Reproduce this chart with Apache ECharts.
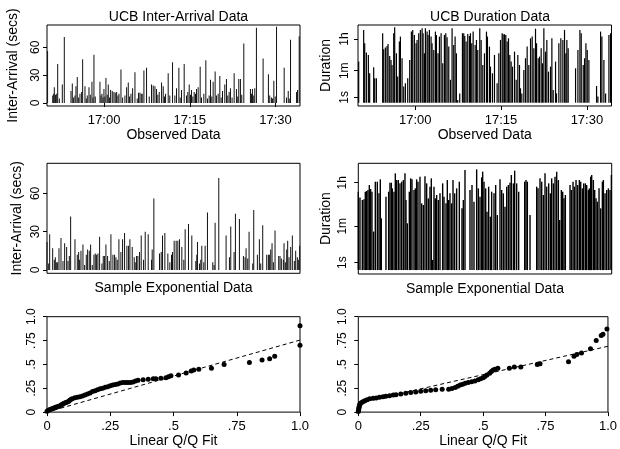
<!DOCTYPE html>
<html><head><meta charset="utf-8">
<script src="https://cdn.jsdelivr.net/npm/echarts@6/dist/echarts.min.js"></script>
<style>html,body{margin:0;padding:0;background:#fff}#c{width:620px;height:449px}</style>
</head><body><div id="c"></div><script>
// ---------- DATA ----------
// UCB inter-arrival: arrival time (minutes after 16:50) and gap (secs)
const ucbArrTime = [0.1,1.0,1.17,1.28,1.5,1.7,1.87,2.16,2.68,3.03,4.2,4.43,4.66,4.9,5.07,5.3,5.54,5.77,6.06,6.24,6.65,6.88,7.05,7.35,7.58,7.87,8.05,8.22,8.45,9.27,9.45,9.62,9.8,9.97,10.14,10.32,10.55,10.73,10.96,11.14,11.43,11.72,11.95,12.19,12.42,12.6,12.95,13.24,13.64,13.94,14.23,14.46,14.7,14.99,15.4,15.8,16.03,16.27,16.5,16.67,16.97,17.43,17.9,18.3,18.6,18.9,19.18,19.41,19.65,20.06,20.35,20.58,20.76,21.22,21.5,21.98,22.39,22.68,23.09,23.32,23.55,24.02,24.43,24.66,24.9,25.13,25.3,25.54,25.77,26.0,26.18,26.47,26.82,27.05,27.46,27.81,28.1,28.39,28.63,28.86,29.09,29.44,29.67,29.97,30.26,30.5,30.73,31.13,31.42,31.66,31.89,32.12,32.41,32.77,33.17,33.4,33.58,33.87,34.1,34.46,35.62,35.8,35.97,36.2,36.38,36.67,37.84,38.77,39.0,39.3,39.5,39.72,39.96,40.19,41.53,41.94,42.24,42.41,42.64,43.7,43.87,44.16];
const ucbArrGap = [56,8,10,17,9,10,42,5,20,71,13,21,6,8,18,28,6,10,12,47,18,5,8,17,9,23,6,52,7,23,8,10,6,15,7,27,9,20,6,14,13,12,11,12,8,10,36,6,8,17,22,7,10,16,33,5,11,11,10,10,35,38,7,20,19,18,15,9,12,22,18,7,10,32,8,44,8,16,38,6,14,42,8,12,20,9,14,7,12,10,15,17,39,6,10,46,5,8,25,7,23,34,8,10,29,6,13,20,26,8,12,16,6,32,15,7,26,26,9,64,15,10,15,8,16,81,48,31,8,6,5,24,7,82,38,6,13,5,68,12,14,72];

// UCB durations: start time (minutes after 16:50) and duration (secs)
const ucbDurTime = [0.12,0.99,1.17,1.46,1.81,2.04,2.74,2.92,3.21,4.31,4.49,4.78,5.07,5.25,5.54,5.77,5.95,6.24,6.41,6.71,6.94,7.23,7.41,7.7,7.99,8.28,8.69,9.04,9.33,9.56,9.85,10.15,10.32,10.61,10.9,11.2,11.37,11.6,11.78,12.07,12.24,12.48,12.77,12.94,13.24,13.53,13.7,13.99,14.23,14.52,14.81,15.1,15.34,15.57,15.86,16.15,16.44,16.73,16.97,17.2,17.43,17.78,18.25,18.48,18.66,18.89,19.18,19.48,19.65,19.88,20.12,20.47,20.7,20.93,21.28,21.52,21.81,22.1,22.45,22.62,22.97,23.15,23.5,23.85,24.31,24.61,24.9,25.19,25.36,25.6,25.83,26.06,26.3,26.53,26.76,27.0,27.35,27.64,27.93,28.22,28.4,28.63,28.98,29.27,29.56,29.85,30.15,30.44,30.73,31.02,31.2,31.49,31.72,32.01,32.24,32.48,32.77,33.0,33.29,33.64,33.88,34.11,34.52,34.69,35.1,35.45,35.8,36.09,36.33,36.5,36.73,38.02,38.43,38.78,39.01,39.36,39.59,39.83,40.06,40.35,41.69,41.92,42.39,42.62,42.97,43.27,43.85,44.14,44.25];
const ucbDurSecs = [196,11560,2080,625,463,43,94,22,22,7520,960,1190,1475,1910,407,243,127,7520,16300,573,28,2580,4900,301,6.9,11,22,243,9330,11560,6070,2080,3190,7520,11560,14300,7520,573,14300,9330,6070,11560,4900,2080,880,9330,6070,573,4900,7520,157,6070,7520,4450,1355,18,14300,1680,4900,573,0.4,2.3,7520,7520,5340,2580,6900,5340,7520,2080,9330,1680,3190,880,14300,3190,127,573,9330,4900,1355,102,43,463,11,573,3190,7520,6700,6700,6070,2580,3950,463,196,102,710,18,463,127,5.4,2.3,66,301,1355,127,3950,4900,1090,13500,2080,301,373,1090,157,14300,710,3190,53,102,3950,4.1,196,2.3,2080,3950,3190,11560,573,3190,1090,82,880,11560,7520,127,301,2080,880,243,7.6,1.2,9330,4900,243,2.3,6070,7520,196];

// Sample exponential inter-arrivals: position along sample (0..760) and gap (secs)
const expArrPos = [0,5,8,17,22,25,28,32,36,42,48,53,59,63,67,71,84,91,95,98,102,108,113,118,122,127,131,136,141,145,149,153,158,165,169,173,177,182,187,192,198,203,207,211,216,222,227,233,240,245,249,256,262,265,269,273,278,283,290,295,304,314,316,321,338,343,347,354,363,369,374,377,382,388,393,398,405,411,415,425,435,447,450,452,458,462,465,471,475,482,498,502,505,516,538,548,552,562,566,578,590,595,598,603,607,618,621,632,638,642,648,660,665,668,672,676,680,685,696,700,704,710,712,716,720,723,727,732,737,743,747,752,755,759];
const expArrGap = [22,5,28,17,8,10,6,6,17,25,7,21,18,7,11,42,24,12,14,8,15,20,4,12,16,15,20,4,12,13,12,13,26,5,11,11,20,11,7,28,12,12,10,8,24,14,24,29,19,19,24,18,10,6,11,11,14,27,8,30,28,8,16,56,13,14,27,29,13,6,12,14,23,23,23,24,18,8,32,36,27,7,12,22,5,8,19,6,19,45,6,4,37,72,27,10,34,14,44,40,11,10,17,9,30,5,47,12,24,5,35,12,12,12,16,21,6,31,11,11,9,8,21,6,16,23,10,18,27,7,15,10,8,19];

// Sample durations: position (0..760) and duration (secs)
const expDurPos = [0,5,12,17,21,25,29,33,37,41,46,51,57,62,66,69,83,91,95,99,102,107,111,115,120,125,130,135,140,143,147,153,157,161,167,171,175,179,185,190,195,200,205,210,215,219,223,227,231,235,240,245,253,257,263,267,271,275,280,284,289,295,303,311,315,320,335,341,347,355,360,365,370,373,377,382,386,391,396,400,407,412,417,425,430,435,440,445,450,455,459,465,469,475,481,499,503,507,515,535,539,545,550,555,560,565,571,576,580,585,590,595,600,604,609,613,617,621,635,639,644,648,653,658,663,667,672,676,681,685,690,693,697,700,705,709,713,717,722,727,732,735,740,745,750,755,759];
const expDurSecs = [1550,910,710,756,1550,1650,1815,2900,1995,1550,36,3960,3960,1330,4930,127,970,1550,3600,3600,2120,1550,8650,4630,4630,3390,3960,4630,8650,710,79,1550,5420,4930,1815,2120,4930,3960,6330,519,444,6600,3390,830,2480,5420,1.6,2480,830,1135,710,1330,3390,970,519,4630,710,1330,519,4630,1330,2120,3960,325,710,11800,1815,2900,607,12600,2120,970,5950,10200,3960,2120,237,2480,148,1550,1330,2900,173,4930,1815,1330,380,2480,2900,3600,7400,3390,11100,3390,1550,3960,4630,3960,173,2480,2120,5420,3960,1135,8650,2480,3390,1330,5420,3390,6330,10100,4630,108,1815,1550,830,1135,2900,1815,3960,2480,4630,2900,4630,3960,2120,3390,3390,2900,1815,2120,6330,7400,4630,1815,830,607,2120,325,3960,4630,1330,1815,2120,1815,7400];

// Q/Q plots
const qqLeftX = [0,0.005,0.01,0.015,0.02,0.025,0.03,0.035,0.04,0.045,0.05,0.055,0.06,0.065,0.07,0.075,0.08,0.085,0.09,0.095,0.10,0.11,0.12,0.13,0.14,0.15,0.16,0.17,0.18,0.19,0.20,0.21,0.22,0.23,0.24,0.25,0.26,0.27,0.28,0.29,0.30,0.31,0.32,0.33,0.34,0.35,0.36,0.38,0.40,0.42,0.43,0.45,0.47,0.48,0.49,0.52,0.55,0.57,0.58,0.60,0.65,0.70,0.80,0.85,0.88,0.90,1.00,1.00];
const qqLeftY = [0.01,0.02,0.025,0.03,0.035,0.04,0.045,0.05,0.055,0.06,0.065,0.075,0.08,0.09,0.095,0.10,0.105,0.11,0.125,0.135,0.14,0.15,0.155,0.16,0.17,0.18,0.19,0.20,0.215,0.225,0.235,0.245,0.25,0.26,0.265,0.275,0.285,0.29,0.295,0.305,0.31,0.31,0.31,0.31,0.315,0.325,0.335,0.34,0.345,0.35,0.35,0.355,0.36,0.37,0.38,0.39,0.41,0.43,0.44,0.45,0.46,0.50,0.52,0.545,0.56,0.585,0.70,0.905];
const qqRightX = [0,0.001,0.002,0.003,0.004,0.006,0.008,0.013,0.02,0.026,0.035,0.046,0.06,0.072,0.085,0.099,0.11,0.125,0.14,0.151,0.17,0.19,0.21,0.23,0.25,0.27,0.29,0.31,0.336,0.362,0.375,0.388,0.398,0.408,0.418,0.428,0.44,0.454,0.467,0.48,0.49,0.5,0.507,0.515,0.526,0.533,0.54,0.548,0.559,0.605,0.625,0.651,0.717,0.728,0.842,0.864,0.875,0.894,0.93,0.953,0.973,0.98,0.996];
const qqRightY = [0.005,0.02,0.035,0.05,0.065,0.08,0.09,0.10,0.11,0.12,0.13,0.14,0.145,0.148,0.155,0.162,0.167,0.172,0.178,0.183,0.19,0.197,0.205,0.212,0.218,0.224,0.229,0.234,0.24,0.24,0.248,0.258,0.27,0.283,0.293,0.303,0.31,0.317,0.327,0.338,0.35,0.36,0.372,0.39,0.407,0.425,0.44,0.45,0.459,0.459,0.472,0.472,0.5,0.507,0.528,0.585,0.603,0.62,0.665,0.751,0.802,0.817,0.872];
const fitLeft = [[0, 0], [1, 0.755]];
const fitRight = [[0, 0.095], [1, 0.69]];

// Tick labels
const clockTicks = [10, 25, 40];          // minutes after 16:50
const clockLabels = ['17:00', '17:15', '17:30'];
const gapTicks = [0, 30, 60];
const durTicks = [1, 60, 3600];           // seconds
const durLabels = ['1s', '1m', '1h'];
const qqTicks = [0, 0.25, 0.5, 0.75, 1];
const qqLabels = ['0', '.25', '.5', '.75', '1.0'];

// ---------- CHART ----------
const FONT = 'Liberation Sans, Arial, Helvetica, sans-serif';
const chart = echarts.init(document.getElementById('c'), null, {renderer: 'canvas'});

function pair(xs, ys, f) { return xs.map((x, i) => [x, f ? f(ys[i]) : ys[i]]); }
const durAxisVals = durTicks.map(s => 1 + s);   // log(1+duration) scale
function durFmt(v) {
  for (let i = 0; i < durAxisVals.length; i++) {
    const t = durAxisVals[i];
    if (Math.abs(v - t) < 0.01 * t || Math.abs(v - Math.log10(t)) < 0.005) return durLabels[i];
  }
  return '';
}
function clockFmt(v) { const i = clockTicks.findIndex(t => Math.abs(t - v) < 1e-6); return i >= 0 ? clockLabels[i] : ''; }
function qqFmt(v) { const i = qqTicks.findIndex(t => Math.abs(t - v) < 1e-6); return i >= 0 ? qqLabels[i] : ''; }

const tick = {show: true, inside: false, length: 4, lineStyle: {color: '#000', width: 1}};
const nameStyle = {fontFamily: FONT, fontSize: 14, color: '#000'};
function xLab(fmt, custom) { const o = {show: true, fontFamily: FONT, fontSize: 13, color: '#000', margin: 8, formatter: fmt}; if (custom) o.customValues = custom; return o; }
function yLab(fmt, margin, custom) { const o = {show: true, rotate: 90, fontFamily: FONT, fontSize: 12, color: '#000', margin: margin, formatter: fmt}; if (custom) o.customValues = custom; return o; }

const grids = [
  {left: 47, top: 25, width: 253, height: 81},
  {left: 358, top: 25, width: 253.5, height: 81},
  {left: 47, top: 163.3, width: 253, height: 110},
  {left: 358.3, top: 163.3, width: 253.4, height: 110.7},
  {left: 47, top: 316.7, width: 253, height: 96.7},
  {left: 358.3, top: 316.7, width: 253.4, height: 96.7}
].map(g => Object.assign({show: true, borderColor: '#000', borderWidth: 1, backgroundColor: 'transparent', containLabel: false}, g));

const xAxes = [
  {gridIndex: 0, type: 'value', min: 0, max: 44.3, name: 'Observed Data', nameLocation: 'middle', nameGap: 20, nameTextStyle: nameStyle,
   axisLine: {show: false}, splitLine: {show: false}, axisTick: Object.assign({customValues: clockTicks}, tick), axisLabel: xLab(clockFmt, clockTicks)},
  {gridIndex: 1, type: 'value', min: 0, max: 44.3, name: 'Observed Data', nameLocation: 'middle', nameGap: 20, nameTextStyle: nameStyle,
   axisLine: {show: false}, splitLine: {show: false}, axisTick: Object.assign({customValues: clockTicks}, tick), axisLabel: xLab(clockFmt, clockTicks)},
  {gridIndex: 2, type: 'value', min: 0, max: 760, name: 'Sample Exponential Data', nameLocation: 'middle', nameGap: 8, nameTextStyle: nameStyle,
   axisLine: {show: false}, splitLine: {show: false}, axisTick: {show: false}, axisLabel: {show: false}},
  {gridIndex: 3, type: 'value', min: 0, max: 760, name: 'Sample Exponential Data', nameLocation: 'middle', nameGap: 8, nameTextStyle: nameStyle,
   axisLine: {show: false}, splitLine: {show: false}, axisTick: {show: false}, axisLabel: {show: false}},
  {gridIndex: 4, type: 'value', min: 0, max: 1, interval: 0.25, name: 'Linear Q/Q Fit', nameLocation: 'middle', nameGap: 17, nameTextStyle: nameStyle,
   axisLine: {show: false}, splitLine: {show: false}, axisTick: tick, axisLabel: xLab(qqFmt)},
  {gridIndex: 5, type: 'value', min: 0, max: 1, interval: 0.25, name: 'Linear Q/Q Fit', nameLocation: 'middle', nameGap: 17, nameTextStyle: nameStyle,
   axisLine: {show: false}, splitLine: {show: false}, axisTick: tick, axisLabel: xLab(qqFmt)}
];

const yAxes = [
  {gridIndex: 0, type: 'value', min: -3.2, max: 84, name: 'Inter-Arrival (secs)', nameLocation: 'middle', nameGap: 27, nameTextStyle: nameStyle,
   axisLine: {show: false}, splitLine: {show: false}, axisTick: Object.assign({customValues: gapTicks}, tick), axisLabel: yLab(v => String(v), 5, gapTicks)},
  {gridIndex: 1, type: 'log', logBase: 10, min: 0.653, max: 21780, name: 'Duration', nameLocation: 'middle', nameGap: 25, nameTextStyle: nameStyle,
   axisLine: {show: false}, splitLine: {show: false}, axisTick: Object.assign({customValues: durAxisVals}, tick), axisLabel: yLab(durFmt, 7, durAxisVals)},
  {gridIndex: 2, type: 'value', min: -2.6, max: 83.6, name: 'Inter-Arrival (secs)', nameLocation: 'middle', nameGap: 23, nameTextStyle: nameStyle,
   axisLine: {show: false}, splitLine: {show: false}, axisTick: Object.assign({customValues: gapTicks}, tick), axisLabel: yLab(v => String(v), 5, gapTicks)},
  {gridIndex: 3, type: 'log', logBase: 10, min: 0.693, max: 22230, name: 'Duration', nameLocation: 'middle', nameGap: 25, nameTextStyle: nameStyle,
   axisLine: {show: false}, splitLine: {show: false}, axisTick: Object.assign({customValues: durAxisVals}, tick), axisLabel: yLab(durFmt, 10, durAxisVals)},
  {gridIndex: 4, type: 'value', min: 0, max: 1, interval: 0.25,
   axisLine: {show: false}, splitLine: {show: false}, axisTick: tick, axisLabel: yLab(qqFmt, 9)},
  {gridIndex: 5, type: 'value', min: 0, max: 1, interval: 0.25,
   axisLine: {show: false}, splitLine: {show: false}, axisTick: tick, axisLabel: yLab(qqFmt, 10)}
];

function bars(i, data, w, c) { return {type: 'bar', xAxisIndex: i, yAxisIndex: i, data: data, barWidth: w, itemStyle: {color: c, opacity: 1}, silent: true, clip: true}; }
function dots(i, data) { return {type: 'scatter', xAxisIndex: i, yAxisIndex: i, data: data, symbol: 'circle', symbolSize: 5, itemStyle: {color: '#000', opacity: 1}, silent: true}; }
function fit(i, data) { return {type: 'line', xAxisIndex: i, yAxisIndex: i, data: data, symbol: 'none', lineStyle: {color: '#000', width: 1, type: [4, 3]}, silent: true}; }

const option = {
  animation: false,
  backgroundColor: '#fff',
  textStyle: {fontFamily: FONT},
  title: [
    {text: 'UCB Inter-Arrival Data', left: 173.5, top: 5, textAlign: 'center', textStyle: {fontFamily: FONT, fontSize: 14, fontWeight: 'normal', color: '#000'}},
    {text: 'UCB Duration Data', left: 485, top: 5, textAlign: 'center', textStyle: {fontFamily: FONT, fontSize: 14, fontWeight: 'normal', color: '#000'}}
  ],
  grid: grids,
  xAxis: xAxes,
  yAxis: yAxes,
  series: [
    bars(0, pair(ucbArrTime, ucbArrGap), 1, '#111'),
    bars(1, pair(ucbDurTime, ucbDurSecs, s => 1 + s), 1.2, '#000'),
    bars(2, pair(expArrPos, expArrGap), 1, '#111'),
    bars(3, pair(expDurPos, expDurSecs, s => 1 + s), 1.4, '#000'),
    dots(4, pair(qqLeftX, qqLeftY)),
    fit(4, fitLeft),
    dots(5, pair(qqRightX, qqRightY)),
    fit(5, fitRight)
  ]
};
chart.setOption(option);
</script></body></html>
